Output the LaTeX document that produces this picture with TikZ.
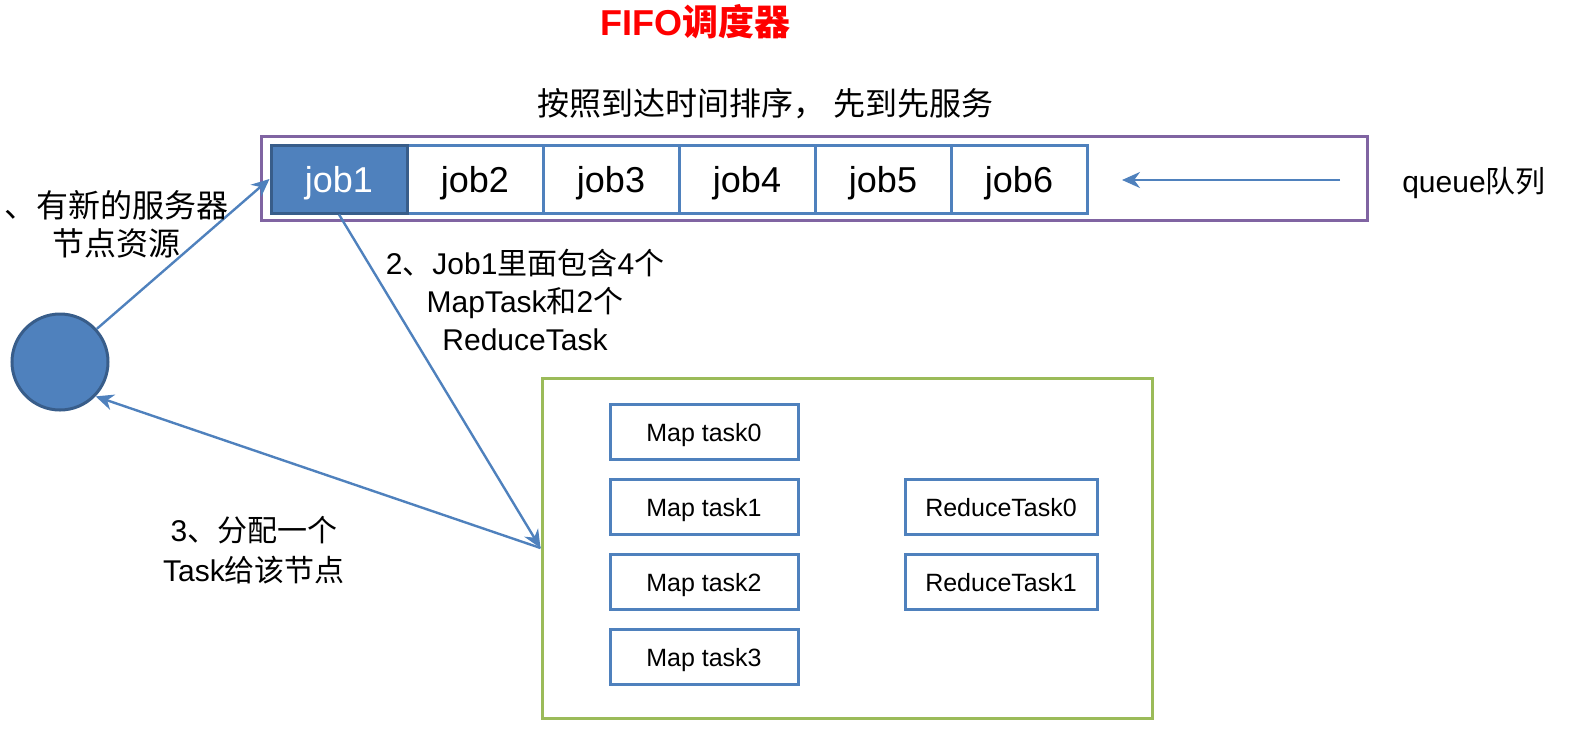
\documentclass[tikz,border=0pt]{standalone}
\usepackage{fontspec}
\setmainfont{Liberation Sans}
\newfontfamily\cjk{Noto Sans CJK SC}
\usetikzlibrary{arrows.meta}
\definecolor{ablue}{HTML}{4F81BD}
\definecolor{dblue}{HTML}{385D8A}
\definecolor{apurple}{HTML}{8064A2}
\definecolor{agreen}{HTML}{9BBB59}
\definecolor{ared}{HTML}{FF0000}
\begin{document}
\begin{tikzpicture}[x=0.5pt,y=-0.5pt,
  jobbox/.style={draw=ablue,line width=1.5pt,fill=white,minimum width=68pt,minimum height=34pt,inner sep=0pt,text depth=0pt,font=\fontsize{18}{20}\selectfont},
  taskbox/.style={draw=ablue,line width=1.5pt,fill=white,minimum height=27.5pt,inner sep=0pt,text depth=0pt,font=\fontsize{12.5}{14}\selectfont},
  conn/.style={draw=ablue,line width=1.2pt,-{Stealth[length=9pt,width=8pt]}},
  lbl/.style={align=center,font=\fontsize{15}{19}\selectfont}]
\useasboundingbox (0,0) rectangle (1572,740);
% title
\node (title) at (695,22) {\fontsize{18}{22}\selectfont\bfseries\color{ared}FIFO{\cjk 调度器}};
\node (sub) at (765,104) {\fontsize{16}{19}\selectfont\cjk 按照到达时间排序，\hspace{4pt}先到先服务};
% queue frame
\node[draw=apurple,line width=1.5pt,minimum width=553pt,minimum height=42pt,inner sep=0pt] (queue) at (814,178) {};
\node[jobbox] (job2) at (475,179) {job2};
\node[jobbox] (job3) at (611,179) {job3};
\node[jobbox] (job4) at (747,179) {job4};
\node[jobbox] (job5) at (883,179) {job5};
\node[jobbox] (job6) at (1019,179) {job6};
\node[jobbox,draw=dblue,fill=ablue,text=white] (job1) at (339,179) {job1};
\coordinate (qs) at (1340,180);
\coordinate (qe) at (1122,180);
\draw[conn] (qs) -- (qe);
\node (qlbl) at (1474,183) {\fontsize{15}{17}\selectfont queue{\cjk 队列}};
% node circle
\node[circle,draw=dblue,fill=ablue,line width=1.5pt,minimum size=48pt,inner sep=0pt] (circ) at (60,362) {};
% green box
\node[draw=agreen,line width=1.5pt,minimum width=305pt,minimum height=170pt,inner sep=0pt] (green) at (847,548) {};
\node[taskbox,minimum width=94pt] (m0) at (704,432) {Map task0};
\node[taskbox,minimum width=94pt] (m1) at (704,507) {Map task1};
\node[taskbox,minimum width=94pt] (m2) at (704,582) {Map task2};
\node[taskbox,minimum width=94pt] (m3) at (704,657) {Map task3};
\node[taskbox,minimum width=96pt] (r0) at (1001,507) {ReduceTask0};
\node[taskbox,minimum width=96pt] (r1) at (1001,582) {ReduceTask1};
% connectors
\draw[conn] (circ.42) -- (job1.west);
\draw[conn] (job1.south) -- (green.west);
\draw[conn] (green.west) -- (circ.-44);
% labels
\node[lbl,font=\fontsize{16}{19}\selectfont] (l1) at (116,224) {\cjk 、有新的服务器\\\cjk 节点资源};
\node[lbl] (l2) at (525,300) {2{\cjk 、}Job1{\cjk 里面包含}4{\cjk 个}\\MapTask{\cjk 和}2{\cjk 个}\\ReduceTask};
\node[lbl,font=\fontsize{15}{20}\selectfont] (l3) at (254,550) {3{\cjk 、分配一个}\\Task{\cjk 给该节点}};
\end{tikzpicture}
\end{document}
